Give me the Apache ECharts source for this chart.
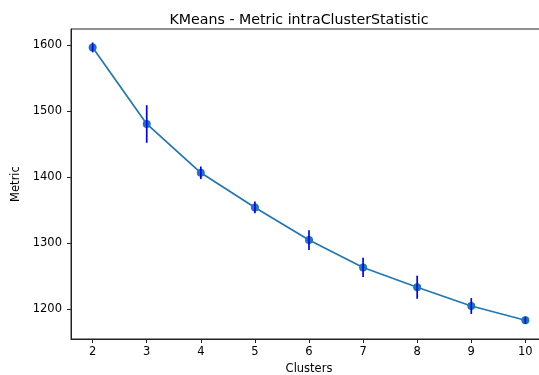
<!DOCTYPE html>
<html>
<head>
<meta charset="utf-8">
<script src="https://cdn.jsdelivr.net/npm/echarts@6/dist/echarts.min.js"></script>
<style>
  html, body { margin: 0; padding: 0; background: #fff; overflow: hidden; }
  #chart { width: 539px; height: 375px; }
</style>
</head>
<body>
<div id="chart"></div>
<script>
// Number of clusters tried
var clusters = [2, 3, 4, 5, 6, 7, 8, 9, 10];
// Mean intra-cluster statistic per cluster count
var metricMean = [1597, 1481, 1407, 1354.5, 1305, 1263.5, 1233.5, 1205, 1183.5];
// Spread (± half-length of the error bar)
var metricErr = [7.5, 28.5, 9.5, 9, 15, 14.5, 17.5, 12, 5.5];
// Axis tick labels
var xTicks = [2, 3, 4, 5, 6, 7, 8, 9, 10];
var yTicks = [1200, 1300, 1400, 1500, 1600];

var font = 'DejaVu Sans';
var pts = clusters.map(function (c, i) { return [c, metricMean[i]]; });
var errRows = clusters.map(function (c, i) { return [c, metricMean[i] - metricErr[i], metricMean[i] + metricErr[i]]; });
var plain = function (v) { return String(v); };

var chart = echarts.init(document.getElementById('chart'));
chart.setOption({
  animation: false,
  backgroundColor: '#ffffff',
  title: {
    text: 'KMeans - Metric intraClusterStatistic',
    left: 294, top: 8, textAlign: 'center',
    textStyle: { fontFamily: font, fontSize: 14.2, fontWeight: 'normal', color: '#000' }
  },
  grid: {
    left: 71, right: -8, top: 29, bottom: 36,
    outerBoundsMode: 'none', containLabel: false,
    show: true, borderColor: '#222', borderWidth: 1, backgroundColor: 'transparent'
  },
  xAxis: {
    type: 'value', min: 1.6, max: 10.4,
    name: 'Clusters', nameLocation: 'middle', nameGap: 23,
    nameTextStyle: { fontFamily: font, fontSize: 11.5, color: '#000' },
    splitLine: { show: false },
    axisLine: { show: true, lineStyle: { color: '#222', width: 1 } },
    axisTick: { show: true, length: 4, lineStyle: { color: '#222' }, customValues: xTicks },
    axisLabel: { fontFamily: font, fontSize: 11.5, color: '#000', margin: 7, customValues: xTicks, formatter: plain }
  },
  yAxis: {
    type: 'value', min: 1155, max: 1625,
    name: 'Metric', nameLocation: 'middle', nameGap: 42,
    nameTextStyle: { fontFamily: font, fontSize: 11.5, color: '#000' },
    splitLine: { show: false },
    axisLine: { show: true, lineStyle: { color: '#222', width: 1 } },
    axisTick: { show: true, length: 4, lineStyle: { color: '#222' }, customValues: yTicks },
    axisLabel: { fontFamily: font, fontSize: 11.5, color: '#000', margin: 9, customValues: yTicks, formatter: plain }
  },
  series: [
    {
      type: 'line',
      data: pts,
      symbol: 'circle',
      symbolSize: 8,
      showAllSymbol: true,
      lineStyle: { color: '#1f77b4', width: 1.7 },
      itemStyle: { color: '#1f77b4', borderWidth: 0 },
      z: 2
    },
    {
      type: 'custom',
      data: errRows,
      z: 3,
      renderItem: function (params, api) {
        var lo = api.coord([api.value(0), api.value(1)]);
        var hi = api.coord([api.value(0), api.value(2)]);
        return {
          type: 'line',
          shape: { x1: lo[0], y1: lo[1], x2: hi[0], y2: hi[1] },
          style: { stroke: '#0000ff', lineWidth: 1.7 }
        };
      }
    }
  ]
});
</script>
</body>
</html>
